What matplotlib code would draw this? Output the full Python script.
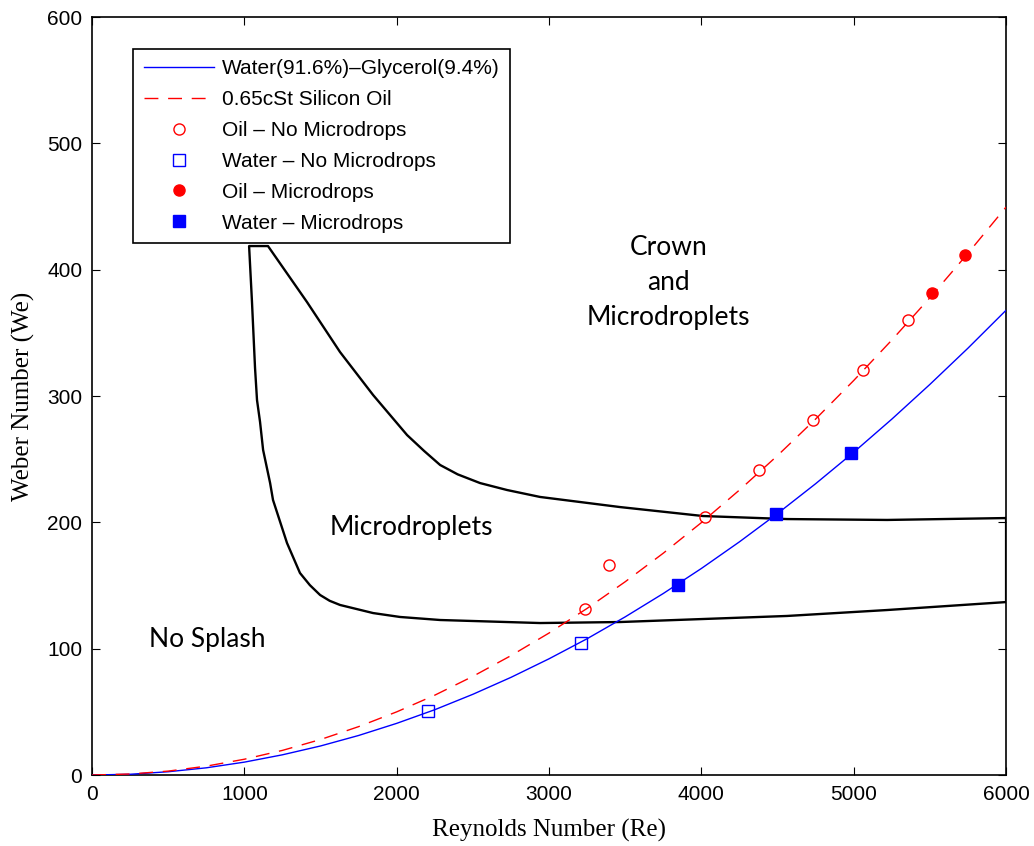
import numpy as np
import matplotlib
matplotlib.use("Agg")
import matplotlib.pyplot as plt

# --- Courbes théoriques ---
re_curve = [0, 250, 500, 750, 1000, 1250, 1500, 1750, 2000, 2250, 2500, 2750, 3000,
            3250, 3500, 3750, 4000, 4250, 4500, 4750, 5000, 5250, 5500, 5750, 6000]
we_water = [0, 0.6, 2.6, 5.7, 10.2, 16.0, 23.0, 31.3, 40.9, 51.7, 63.9, 77.3, 92.0,
            107.9, 125.2, 143.7, 163.5, 184.6, 207.0, 230.6, 255.5, 281.7, 309.2, 337.9, 367.9]
we_oil = [0, 0.8, 3.1, 7.0, 12.5, 19.5, 28.1, 38.3, 50.0, 63.2, 78.1, 94.5, 112.4,
          131.9, 153.0, 175.6, 199.8, 225.6, 252.9, 281.8, 312.3, 344.3, 377.8, 413.0, 449.6]

# --- Points expérimentaux ---
oil_nomicro_re = [3236, 3394, 4024, 4379, 4733, 5061, 5357]
oil_nomicro_we = [131.4, 166.2, 204.2, 241.4, 281.0, 320.6, 360.2]
water_nomicro_re = [2206, 3210]
water_nomicro_we = [50.7, 104.5]
oil_micro_re = [5514, 5731]
oil_micro_we = [381.5, 411.6]
water_micro_re = [3847, 4490, 4983]
water_micro_we = [150.4, 206.6, 254.9]

# --- Frontière de la zone "Microdroplets" (contour fermé) ---
zone_re = [6000, 5219, 4562, 4011, 3466, 2941, 2724, 2547, 2400, 2285, 2180, 2068, 1845, 1628,
           1411, 1155, 1031, 1050, 1070, 1083, 1103, 1123, 1169, 1188, 1280, 1365,
           1430, 1497, 1560, 1628, 1845, 2022, 2285, 2941, 3466, 4562, 5219, 6000, 6000]
zone_we = [203.4, 201.9, 202.6, 205.0, 212.1, 220.1, 225.6, 231.1, 238.0, 245.4, 256.5, 269.1,
           300.8, 334.8, 374.4, 418.7, 418.7, 374.4, 322.2, 296.8, 279.4, 257.3, 231.1, 217.7,
           183.6, 159.9, 150.3, 142.5, 137.9, 134.6, 128.2, 125.1, 122.7, 120.3, 121.1, 125.9,
           130.6, 136.9, 203.4]

fig = plt.figure(figsize=(10.34, 8.46), dpi=100)
ax = fig.add_axes([0.089, 0.0839, 0.884, 0.896])

ax.plot(zone_re, zone_we, color='black', linewidth=1.7, zorder=2)
ax.plot(re_curve, we_water, color='#0000ff', linewidth=1,
        label='Water(91.6%)\u2013Glycerol(9.4%)', zorder=3)
ax.plot(re_curve, we_oil, color='#ff0000', linewidth=1, linestyle=(0, (10, 7)),
        label='0.65cSt Silicon Oil', zorder=3)
ax.plot(oil_nomicro_re, oil_nomicro_we, 'o', mfc='none', mec='#ff0000', ms=8, mew=1,
        label='Oil \u2013 No Microdrops', zorder=4)
ax.plot(water_nomicro_re, water_nomicro_we, 's', mfc='none', mec='#0000ff', ms=8, mew=1,
        label='Water \u2013 No Microdrops', zorder=4)
ax.plot(oil_micro_re, oil_micro_we, 'o', color='#ff0000', ms=8,
        label='Oil \u2013 Microdrops', zorder=4)
ax.plot(water_micro_re, water_micro_we, 's', color='#0000ff', ms=8,
        label='Water \u2013 Microdrops', zorder=4)

# Étiquettes des régimes
ax.text(3782, 390, 'Crown\nand\nMicrodroplets', ha='center', va='center',
        fontsize=19, family='Lato', linespacing=1.5)
ax.text(2094, 196, 'Microdroplets', ha='center', va='center', fontsize=19, family='Lato')
ax.text(755, 107, 'No Splash', ha='center', va='center', fontsize=19, family='Lato')

ax.set_xlim(0, 6000)
ax.set_ylim(0, 600)
ax.set_xticks(range(0, 6001, 1000))
ax.set_yticks(range(0, 601, 100))
ax.tick_params(direction='in', top=True, right=True, length=6, labelsize=15, pad=7)
for lab in ax.get_xticklabels() + ax.get_yticklabels():
    lab.set_family('Liberation Sans')
for sp in ax.spines.values():
    sp.set_linewidth(1.2)

ax.set_xlabel('Reynolds Number (Re)', family='Liberation Serif', fontsize=18, labelpad=11)
ax.set_ylabel('Weber Number (We)', family='Liberation Serif', fontsize=18, labelpad=9)

leg = ax.legend(loc='upper left', bbox_to_anchor=(0.045, 0.958), borderaxespad=0,
                fancybox=False, edgecolor='black', framealpha=1,
                prop={'family': 'Liberation Sans', 'size': 15},
                handlelength=3.4, labelspacing=0.57, borderpad=0.5, handletextpad=0.35)
leg.get_frame().set_linewidth(1.2)

fig.savefig('out.png', dpi=100)
